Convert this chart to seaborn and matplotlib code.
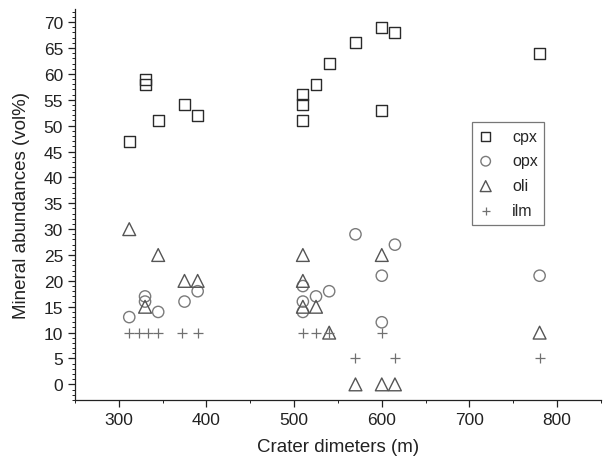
import matplotlib
matplotlib.use("Agg")
import matplotlib.pyplot as plt
import seaborn as sns
from matplotlib.ticker import MultipleLocator

# crater diameters (m) and mineral abundances (vol%)
cpx_x = [312, 330, 330, 345, 375, 390, 510, 510, 510, 525, 540, 570, 600, 600, 615, 780]
cpx_y = [47, 59, 58, 51, 54, 52, 51, 54, 56, 58, 62, 66, 69, 53, 68, 64]

opx_x = [312, 330, 330, 345, 375, 390, 510, 510, 510, 525, 540, 570, 600, 600, 615, 780]
opx_y = [13, 17, 16, 14, 16, 18, 19, 16, 14, 17, 18, 29, 21, 12, 27, 21]

oli_x = [312, 330, 345, 375, 390, 510, 510, 510, 525, 540, 570, 600, 600, 615, 780]
oli_y = [30, 15, 25, 20, 20, 25, 20, 15, 15, 10, 0, 25, 0, 0, 10]

ilm_x = [312, 323, 333, 345, 372, 390, 510, 525, 540, 570, 600, 615, 780]
ilm_y = [10, 10, 10, 10, 10, 10, 10, 10, 10, 5, 10, 5, 5]

sns.set_style("ticks")
plt.rcParams['font.family'] = ['Liberation Sans', 'DejaVu Sans']

fig, ax = plt.subplots(figsize=(6.04, 4.64), dpi=100)
fig.subplots_adjust(left=0.124, right=0.995, bottom=0.136, top=0.978)

sns.scatterplot(x=cpx_x, y=cpx_y, marker='s', s=62, color='none',
                edgecolor='#2a2a2a', linewidth=1.0, label='cpx', ax=ax)
sns.scatterplot(x=opx_x, y=opx_y, marker='o', s=66, color='none',
                edgecolor='#7a7a7a', linewidth=1.0, label='opx', ax=ax)
sns.scatterplot(x=oli_x, y=oli_y, marker='^', s=85, color='none',
                edgecolor='#555555', linewidth=1.0, label='oli', ax=ax)
sns.scatterplot(x=ilm_x, y=ilm_y, marker='+', s=55, color='#707070',
                linewidth=0.9, label='ilm', ax=ax)

ax.set_xlim(250, 850)
ax.set_ylim(-3, 72.5)
ax.xaxis.set_major_locator(MultipleLocator(100))
ax.xaxis.set_minor_locator(MultipleLocator(50))
ax.yaxis.set_major_locator(MultipleLocator(5))
ax.yaxis.set_minor_locator(MultipleLocator(1))
ax.tick_params(which='major', length=5, width=0.9, labelsize=12.5, colors='#222222')
ax.tick_params(which='minor', length=2.5, width=0.7, colors='#222222')

sns.despine(ax=ax)
for sp in ['left', 'bottom']:
    ax.spines[sp].set_color('#222222')
    ax.spines[sp].set_linewidth(0.9)

ax.set_xlabel('Crater dimeters (m)', fontsize=13.5, color='#222222', labelpad=8)
ax.set_ylabel('Mineral abundances (vol%)', fontsize=13.5, color='#222222', labelpad=10)

leg = ax.legend(loc='upper right', bbox_to_anchor=(0.892, 0.711), borderaxespad=0,
                fontsize=11.5, frameon=True, fancybox=False, edgecolor='#555555',
                handlelength=0.9, handletextpad=1.2, borderpad=0.4,
                labelspacing=0.62, markerscale=0.85)
leg.get_frame().set_linewidth(0.9)

fig.savefig('out.png', dpi=100)
